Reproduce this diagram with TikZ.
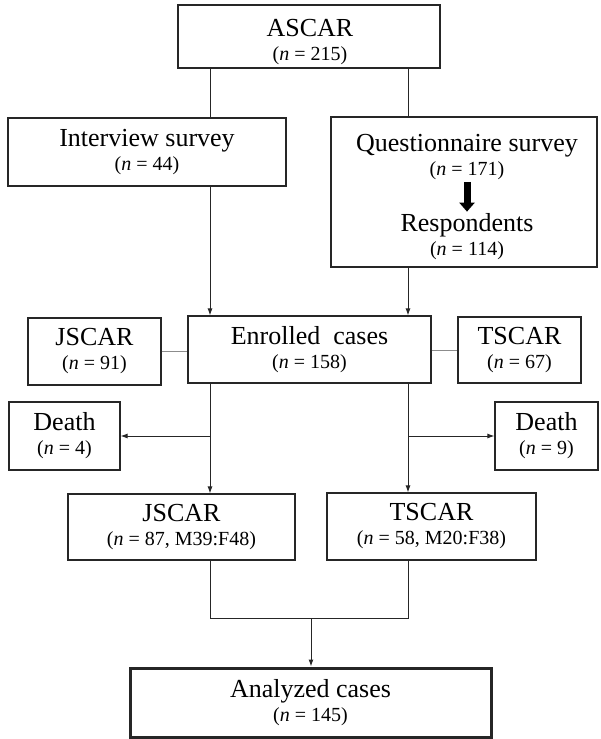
\documentclass[tikz,border=0pt]{standalone}
\usepackage{fontspec}
\setmainfont{Liberation Serif}
\usetikzlibrary{arrows.meta}
\newcommand{\tfont}{\fontsize{26}{26}\selectfont}
\newcommand{\sfont}{\fontsize{20}{24}\selectfont}
\newcommand{\twol}[2]{{\tfont #1}\\{\sfont (\textit{n} = #2)}}
\tikzset{
  box/.style={draw=black!85, line width=1.1pt, inner sep=0pt, align=center, fill=white, font=\fontsize{20}{24}\selectfont},
  lbl/.style={inner sep=0pt, align=center, font=\fontsize{20}{24}\selectfont},
  conn/.style={draw=black!85, line width=1pt},
  arr/.style={conn, -{Latex[length=7pt,width=5pt]}},
  side/.style={draw=black!45, line width=1pt}
}
\begin{document}
\begin{tikzpicture}[x=1pt,y=-1pt]
\useasboundingbox[fill=white] (0,0) rectangle (601,739);
% column coordinates
\coordinate (cl) at (210,0);
\coordinate (cr) at (408,0);
\coordinate (cm) at (311,0);
\coordinate (dy) at (0,436);
\coordinate (my) at (0,618);

\node[box, minimum width=262pt, minimum height=63pt] (ascar) at (309,36.5) {};
\node[lbl] (ascart) at (310,42) {\twol{ASCAR}{215}};
\node[box, minimum width=278pt, minimum height=68pt] (interview) at (147,152) {\twol{Interview survey}{44}};
\node[box, minimum width=266pt, minimum height=150pt] (quest) at (464,192) {};
\node[lbl] (q1) at (467,157) {\twol{Questionnaire survey}{171}};
\node[lbl] (q2) at (467,237) {\twol{Respondents}{114}};
\draw[line width=7pt, -{Triangle[length=9pt,width=15pt]}] ([yshift=-2pt]q1.south) -- ([yshift=2pt]q2.north);

\node[box, minimum width=243pt, minimum height=67pt] (enrolled) at (309.5,349.5) {\twol{Enrolled\ \ cases}{158}};
\node[box, minimum width=133pt, minimum height=67pt] (jscars) at (94.5,351.5) {\twol{JSCAR}{91}};
\node[box, minimum width=123pt, minimum height=66pt] (tscars) at (519.5,350) {\twol{TSCAR}{67}};
\node[box, minimum width=111pt, minimum height=68pt] (deathl) at (64.5,436) {\twol{Death}{4}};
\node[box, minimum width=103pt, minimum height=68pt] (deathr) at (546.5,436) {\twol{Death}{9}};
\node[box, minimum width=227pt, minimum height=66pt] (jscarb) at (181.5,527) {\twol{JSCAR}{87, M39:F48}};
\node[box, minimum width=209pt, minimum height=67pt] (tscarb) at (431.5,526.5) {\twol{TSCAR}{58, M20:F38}};
\node[box, line width=3pt, minimum width=361pt, minimum height=69pt] (analyzed) at (310.5,702.5) {\twol{Analyzed cases}{145}};

% connectors
\draw[conn] (ascar.south -| cl) -- (interview.north -| cl);
\draw[conn] (ascar.south -| cr) -- (quest.north -| cr);
\draw[arr] (interview.south -| cl) -- (enrolled.north -| cl);
\draw[arr] (quest.south -| cr) -- (enrolled.north -| cr);
\draw[side] (jscars.east) -- (enrolled.west |- jscars.east);
\draw[side] (enrolled.east |- tscars.west) -- (tscars.west);
\draw[arr] (enrolled.south -| cl) -- (jscarb.north -| cl);
\draw[arr] (enrolled.south -| cr) -- (tscarb.north -| cr);
\draw[arr] (dy -| cl) -- (deathl.east);
\draw[arr] (dy -| cr) -- (deathr.west);
\draw[conn] (jscarb.south -| cl) -- (my -| cl) -- (my -| cr) -- (tscarb.south -| cr);
\draw[arr] (my -| cm) -- (analyzed.north -| cm);
\end{tikzpicture}
\end{document}
